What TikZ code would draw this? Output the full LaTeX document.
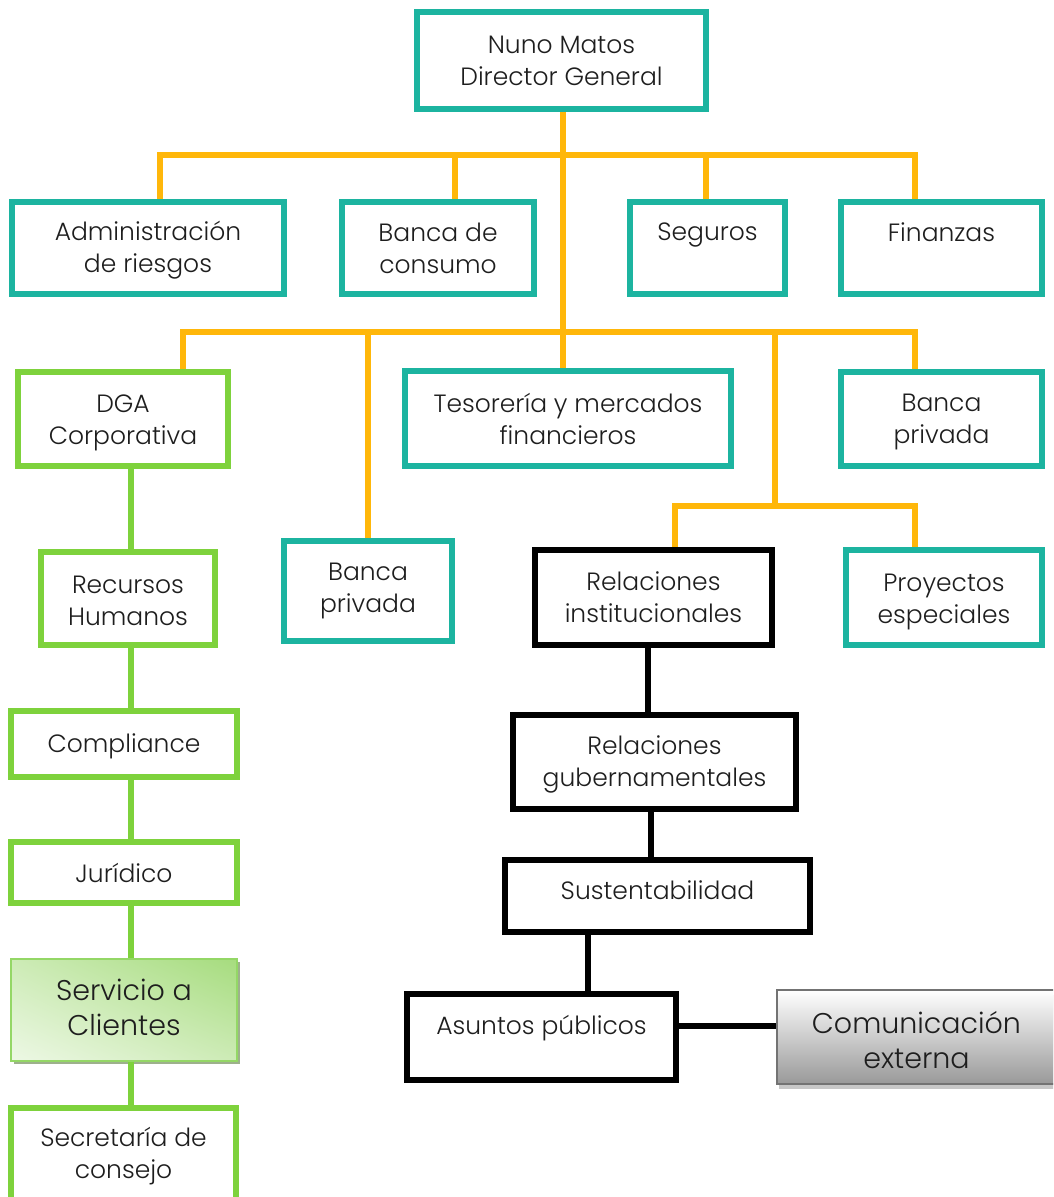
\documentclass[tikz,border=0pt]{standalone}
\usepackage{fontspec}
\setmainfont{Poppins}[UprightFont={* Light}]
\usetikzlibrary{calc,shadows,shadings}

\definecolor{cteal}{HTML}{1CB4A0}
\definecolor{corange}{HTML}{FFB70A}
\definecolor{cgreen}{HTML}{7ED23C}
\definecolor{ctext}{HTML}{1E1E1E}
\definecolor{glight}{HTML}{EDF8E5}
\definecolor{gmid}{HTML}{CDEBB6}
\definecolor{gdark}{HTML}{A6DC7E}
\definecolor{gborder}{HTML}{94D766}
\definecolor{gshadow}{HTML}{9DB18C}

\tikzset{
  base/.style={align=center, inner sep=0pt, text=ctext,
    font=\fontsize{25}{32}\selectfont},
  sz/.style 2 args={minimum width=#1pt, minimum height=#2pt},
  tealbox/.style={base, draw=cteal, line width=6pt, fill=white},
  greenbox/.style={base, draw=cgreen, line width=6pt, fill=white},
  blackbox/.style={base, draw=black, line width=6.5pt, fill=white},
  softgreen/.style={base, draw=gborder, line width=2pt,
    upper right=gdark, upper left=gmid, lower left=glight, lower right=gmid,
    font=\fontsize{28.5}{35}\selectfont,
    drop shadow={shadow xshift=3pt, shadow yshift=-3pt, fill=gshadow, opacity=1}},
  softgray/.style={base, draw=black!55, line width=2pt,
    top color=white, bottom color=black!40,
    font=\fontsize{28.5}{35}\selectfont,
    drop shadow={shadow xshift=2pt, shadow yshift=-5pt, fill=black!22, opacity=1}},
  ocon/.style={draw=corange, line width=6pt},
  gcon/.style={draw=cgreen, line width=6pt},
  kcon/.style={draw=black, line width=6pt},
}
% raise or lower a line of text without changing its box
\newcommand\liftby[2]{\raisebox{#1}[\height][\depth]{#2}}
\newcommand\twoline[3]{\liftby{#1}{#2}\\\liftby{#1}{#3}}

\begin{document}
\begin{tikzpicture}[x=1pt, y=-1pt]
\useasboundingbox (0,0) rectangle (1053,1197);
\clip (0,0) rectangle (1053,1197);

% junctions of the orange tree
\coordinate (j1) at (563,155);
\coordinate (j2) at (563,332);
\coordinate (j3) at (775,506);
% x positions of the vertical chains
\coordinate (gx) at (131,0);
\coordinate (k1) at (648,0);
\coordinate (k2) at (651,0);
\coordinate (k3) at (588,0);

% ---------- boxes ----------
\node[tealbox, sz={289}{97}] (top) at (561.5,60.5) {Nuno Matos\\Director General};

\node[tealbox, sz={272}{92}] (adm) at (148,248) {\twoline{-2pt}{Administración}{de riesgos}};
\node[tealbox, sz={192}{92}] (bco) at (438,248) {Banca de\\consumo};
\node[tealbox, sz={155}{92}] (seg) at (707.5,248) {Seguros\\\mbox{}};
\node[tealbox, sz={201}{92}] (fin) at (941.5,248) {Finanzas\\\mbox{}};

\node[greenbox, sz={210}{94}] (dga) at (123,419) {\twoline{-4pt}{DGA}{Corporativa}};
\node[tealbox, sz={326}{95}] (tes) at (568,418.5) {Tesorería y mercados\\financieros};
\node[tealbox, sz={201}{94}] (bpr) at (941.5,419) {\twoline{-3pt}{Banca}{privada}};

\node[tealbox, sz={168}{100}] (bpl) at (368,591) {\twoline{0pt}{Banca}{privada}};
\node[blackbox, sz={237}{95}] (rin) at (653.5,597.5) {Relaciones\\institucionales};
\node[tealbox, sz={196}{95}] (pro) at (944,597.5) {\twoline{-4pt}{Proyectos}{especiales}};

\node[greenbox, sz={174}{93}] (rh) at (128,598.5) {\twoline{-2pt}{Recursos}{Humanos}};
\node[greenbox, sz={226}{66}] (comp) at (124,744) {\liftby{-2pt}{Compliance}};
\node[greenbox, sz={226}{61}] (jur) at (124,872.5) {Jurídico};
\node[softgreen, sz={226}{102}] (serv) at (124,1010) {\twoline{3pt}{Servicio a}{Clientes}};
\node[greenbox, sz={225}{92}] (sec) at (123.5,1154) {\twoline{-2pt}{Secretaría de}{consejo}};

\node[blackbox, sz={283}{94}] (rgub) at (654.5,762) {\twoline{-2pt}{Relaciones}{gubernamentales}};
\node[blackbox, sz={305}{72}] (sus) at (657.5,896) {\liftby{6pt}{Sustentabilidad}};
\node[blackbox, sz={269}{86}] (asu) at (541.5,1037) {\liftby{9pt}{Asuntos públicos}};
\node[softgray, sz={279}{94}] (com) at (916.5,1037) {\twoline{-3pt}{Comunicación}{externa}};

% ---------- orange tree ----------
\draw[ocon] (top.south -| j1) -- (j2);
\draw[ocon] (j2) -- (tes.north -| j1);
\draw[ocon] ([xshift=12pt]adm.north) |- (j1);
\draw[ocon] ([xshift=17pt]bco.north) |- (j1);
\draw[ocon] ([xshift=-1.5pt]seg.north) |- (j1);
\draw[ocon] ([xshift=-26.5pt]fin.north) |- (j1);
\draw[ocon] ([xshift=60pt]dga.north) |- (j2);
\draw[ocon] (bpl.north) |- (j2);
\draw[ocon] ([xshift=-26.5pt]bpr.north) |- (j2);
\draw[ocon] (j3) -- (j3 |- j2);
\draw[ocon] ([xshift=21.5pt]rin.north) |- (j3);
\draw[ocon] ([xshift=-29pt]pro.north) |- (j3);

% ---------- green chain ----------
\draw[gcon] (dga.south -| gx) -- (rh.north -| gx);
\draw[gcon] (rh.south -| gx) -- (comp.north -| gx);
\draw[gcon] (comp.south -| gx) -- (jur.north -| gx);
\draw[gcon] (jur.south -| gx) -- (serv.north -| gx);
\draw[gcon] (serv.south -| gx) -- (sec.north -| gx);

% ---------- black chain ----------
\draw[kcon] (rin.south -| k1) -- (rgub.north -| k1);
\draw[kcon] (rgub.south -| k2) -- (sus.north -| k2);
\draw[kcon] (sus.south -| k3) -- (asu.north -| k3);
\draw[kcon] ([yshift=11pt]asu.east) -- ([yshift=11pt]com.west);
\end{tikzpicture}
\end{document}
